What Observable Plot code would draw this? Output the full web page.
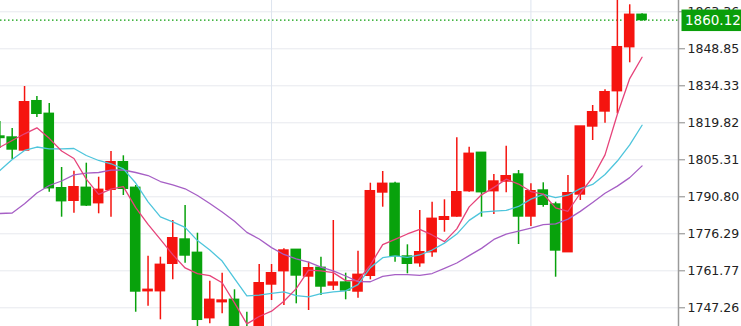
<!DOCTYPE html>
<html><head><meta charset="utf-8">
<script src="https://cdn.jsdelivr.net/npm/d3@7"></script>
<script src="https://cdn.jsdelivr.net/npm/@observablehq/plot@0.6"></script>
<style>
html,body{margin:0;padding:0;background:#fff;overflow:hidden}
svg{display:block}
</style></head><body><div id="chart"></div>
<script>
const opens = [1814.45, 1814.06, 1808.96, 1828.30, 1823.35, 1794.17, 1789.23, 1794.33, 1788.29, 1793.54, 1804.37, 1794.33, 1753.77, 1753.77, 1764.52, 1774.05, 1768.83, 1743.18, 1749.46, 1750.40, 1735.22, 1727.37, 1756.40, 1761.62, 1770.01, 1759.54, 1762.95, 1756.01, 1757.18, 1753.65, 1759.81, 1792.49, 1795.90, 1767.38, 1764.75, 1769.07, 1781.78, 1783.07, 1793.00, 1808.06, 1793.00, 1796.80, 1799.55, 1783.07, 1793.27, 1787.78, 1769.07, 1791.70, 1818.37, 1824.26, 1832.22, 1849.48, 1862.19];
const highs = [1820.33, 1817.59, 1834.06, 1830.14, 1827.39, 1802.29, 1800.84, 1803.98, 1798.49, 1808.57, 1806.88, 1795.23, 1767.50, 1767.11, 1781.50, 1787.39, 1776.52, 1757.69, 1760.83, 1754.32, 1745.53, 1764.24, 1764.24, 1770.40, 1770.01, 1765.15, 1767.11, 1781.50, 1760.83, 1769.46, 1796.13, 1800.72, 1796.53, 1771.97, 1785.42, 1788.68, 1789.62, 1813.94, 1810.25, 1808.06, 1799.55, 1810.65, 1801.11, 1795.90, 1796.29, 1788.68, 1799.15, 1818.37, 1826.61, 1832.77, 1869.76, 1866.11, 1862.58];
const lows = [1809.74, 1805.43, 1808.57, 1821.90, 1792.60, 1782.80, 1784.37, 1786.99, 1784.13, 1782.80, 1791.31, 1745.53, 1747.89, 1742.55, 1758.24, 1764.75, 1739.53, 1740.98, 1744.91, 1733.65, 1724.63, 1725.80, 1750.12, 1748.16, 1748.83, 1746.20, 1752.08, 1754.05, 1750.40, 1751.03, 1758.24, 1786.72, 1765.15, 1760.60, 1763.19, 1767.11, 1776.91, 1782.80, 1792.60, 1782.80, 1783.86, 1792.37, 1772.09, 1779.15, 1786.72, 1759.26, 1769.07, 1789.35, 1812.88, 1819.67, 1823.35, 1843.36, 1859.68];
const closes = [1813.86, 1809.35, 1827.90, 1823.35, 1794.17, 1789.07, 1794.56, 1787.39, 1793.54, 1804.37, 1793.94, 1753.65, 1754.32, 1764.13, 1774.56, 1767.77, 1742.55, 1750.40, 1750.12, 1735.22, 1726.59, 1756.91, 1760.83, 1769.74, 1759.93, 1762.79, 1755.61, 1757.18, 1754.05, 1760.20, 1793.00, 1795.90, 1767.50, 1764.52, 1769.07, 1782.17, 1782.80, 1792.60, 1807.67, 1792.60, 1796.80, 1798.88, 1783.07, 1793.00, 1787.66, 1769.74, 1792.21, 1818.37, 1823.98, 1831.83, 1849.48, 1862.19, 1860.12];
const ma5 = [1810.25, 1812.88, 1815.51, 1817.86, 1813.73, 1808.77, 1805.81, 1797.71, 1791.75, 1793.79, 1794.76, 1786.58, 1779.97, 1774.08, 1768.12, 1762.89, 1760.67, 1759.88, 1757.08, 1749.21, 1740.98, 1743.85, 1745.93, 1749.86, 1754.80, 1762.04, 1761.78, 1761.05, 1757.91, 1757.97, 1764.01, 1772.07, 1774.13, 1776.22, 1778.00, 1775.83, 1773.21, 1778.23, 1786.86, 1791.57, 1794.49, 1797.71, 1795.80, 1792.87, 1791.88, 1786.47, 1785.13, 1792.19, 1798.39, 1807.23, 1823.17, 1837.17, 1845.52];
const ma10 = [1801.11, 1805.43, 1808.96, 1810.33, 1809.63, 1809.63, 1809.74, 1807.00, 1805.04, 1803.76, 1801.77, 1796.20, 1788.84, 1782.91, 1780.95, 1778.82, 1773.62, 1769.92, 1765.58, 1758.67, 1751.93, 1752.26, 1752.91, 1753.47, 1752.01, 1751.51, 1752.81, 1753.49, 1753.88, 1756.38, 1763.02, 1766.92, 1767.59, 1767.07, 1767.98, 1769.92, 1772.64, 1776.18, 1781.54, 1784.78, 1785.16, 1785.46, 1787.02, 1789.87, 1791.72, 1790.48, 1791.42, 1794.00, 1795.63, 1799.55, 1804.82, 1811.15, 1818.86];
const ma20 = [1784.25, 1784.44, 1788.05, 1792.29, 1795.23, 1797.00, 1799.43, 1800.06, 1800.33, 1801.23, 1801.31, 1800.33, 1799.15, 1796.80, 1795.43, 1793.94, 1791.31, 1788.17, 1784.84, 1781.21, 1776.85, 1774.23, 1770.87, 1768.19, 1766.48, 1765.17, 1763.22, 1761.71, 1759.73, 1757.52, 1757.48, 1759.59, 1760.25, 1760.27, 1759.99, 1760.71, 1762.73, 1764.84, 1767.71, 1770.58, 1774.09, 1776.19, 1777.30, 1778.47, 1779.85, 1780.20, 1782.03, 1785.09, 1788.59, 1792.17, 1794.99, 1798.31, 1802.93];
const yTicks = [1747.26, 1761.77, 1776.29, 1790.80, 1805.31, 1819.82, 1834.33, 1848.85, 1863.36];
const gridCandles = [22, 43];
const lastPrice = closes[closes.length - 1];
const yDomain = [1739.93, 1867.79];
const xDomain = [0.053, 54.95];

const UP = "#f5140f", DOWN = "#08a20c", PRICE = "#0a9e0a";
const candles = closes.map((c, i) => ({i, open: opens[i], high: highs[i], low: lows[i], close: c, up: c >= opens[i]}));
const line = (arr) => arr.map((v, i) => ({i, v}));
const fmt = d => d.toFixed(2);
const font = "'DejaVu Sans', Verdana, sans-serif";
const W = 741, H = 326, MR = 63;

const plot = Plot.plot({
  width: W, height: H,
  marginLeft: 0, marginRight: MR, marginTop: 0, marginBottom: 0,
  style: {background: "#fff", fontFamily: font, fontSize: "12.5px", color: "#222", overflow: "visible"},
  x: {domain: xDomain, axis: null},
  y: {domain: yDomain, axis: null},
  marks: [
    Plot.gridY(yTicks, {stroke: "#e7e9ee", strokeOpacity: 1, strokeWidth: 1}),
    Plot.gridX(gridCandles, {stroke: "#dde4ef", strokeOpacity: 1, strokeWidth: 1}),
    Plot.ruleY([lastPrice], {stroke: PRICE, strokeDasharray: "1.5,2.5", strokeWidth: 1.2}),
    Plot.ruleX(candles, {x: "i", y1: "low", y2: "high", stroke: d => d.up ? UP : DOWN, strokeWidth: 1.5, clip: true}),
    Plot.rect(candles, {x1: d => d.i - 0.43, x2: d => d.i + 0.43, y1: "open", y2: "close",
      fill: d => d.up ? UP : DOWN, insetTop: -0.7, insetBottom: -0.7, clip: true}),
    Plot.line(line(ma20), {x: "i", y: "v", stroke: "#a65fc5", strokeWidth: 1.3, clip: true}),
    Plot.line(line(ma10), {x: "i", y: "v", stroke: "#4ec5dc", strokeWidth: 1.3, clip: true}),
    Plot.line(line(ma5), {x: "i", y: "v", stroke: "#e6437a", strokeWidth: 1.3, clip: true}),
    Plot.axisY(yTicks, {anchor: "right", tickSize: 6, tickPadding: 3, tickFormat: fmt,
      stroke: "#888", fill: "#222", fontSize: 12.5}),
    Plot.ruleX([xDomain[1]], {stroke: "#9a9a9a", strokeWidth: 1.5})
  ]
});

const svg = d3.select(plot);
const yy = plot.scale("y").apply(lastPrice);
const x0 = W - MR + 3.5;
const g = svg.append("g");
g.append("rect").attr("x", x0).attr("y", yy - 10).attr("width", W - x0).attr("height", 21.5).attr("fill", PRICE);
g.append("text").attr("x", W - MR + 7).attr("y", yy + 0.8).attr("dy", "0.35em")
  .attr("text-anchor", "start")
  .attr("fill", "#fff").attr("font-family", font).attr("font-size", 13.5).text(fmt(lastPrice));

document.getElementById("chart").appendChild(plot);
</script>
</body></html>
